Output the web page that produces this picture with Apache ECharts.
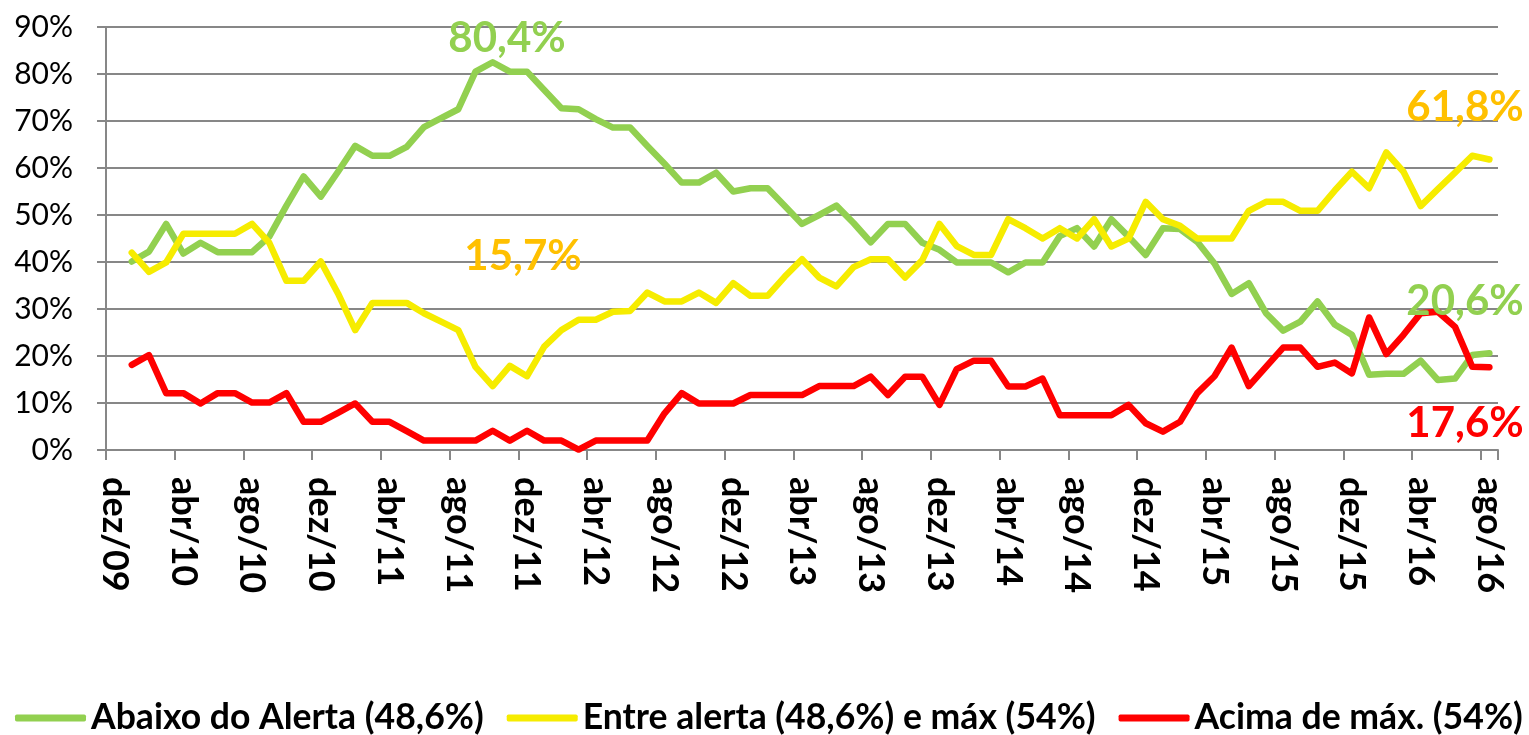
<!DOCTYPE html>
<html>
<head>
<meta charset="utf-8">
<script src="https://cdn.jsdelivr.net/npm/echarts@6/dist/echarts.min.js"></script>
<style>
html,body{margin:0;padding:0;background:#fff;}
#chart{width:1529px;height:735px;}
</style>
</head>
<body>
<div id="chart"></div>
<script>
// Months (category axis), dez/09 .. ago/16
const categories = [
 'dez/09',
 'jan/10','fev/10','mar/10','abr/10','mai/10','jun/10','jul/10','ago/10','set/10','out/10','nov/10','dez/10',
 'jan/11','fev/11','mar/11','abr/11','mai/11','jun/11','jul/11','ago/11','set/11','out/11','nov/11','dez/11',
 'jan/12','fev/12','mar/12','abr/12','mai/12','jun/12','jul/12','ago/12','set/12','out/12','nov/12','dez/12',
 'jan/13','fev/13','mar/13','abr/13','mai/13','jun/13','jul/13','ago/13','set/13','out/13','nov/13','dez/13',
 'jan/14','fev/14','mar/14','abr/14','mai/14','jun/14','jul/14','ago/14','set/14','out/14','nov/14','dez/14',
 'jan/15','fev/15','mar/15','abr/15','mai/15','jun/15','jul/15','ago/15','set/15','out/15','nov/15','dez/15',
 'jan/16','fev/16','mar/16','abr/16','mai/16','jun/16','jul/16','ago/16'
];

const seriesNames = ['Abaixo do Alerta (48,6%)', 'Entre alerta (48,6%) e máx (54%)', 'Acima de máx. (54%)'];

const abaixo = [null,
 40.1,42.2,48.1,41.8,44.1,42.1,42.1,42.1,45.4,52.0,58.2,53.9,
 59.2,64.7,62.6,62.6,64.5,68.7,70.6,72.5,80.5,82.5,80.5,80.5,
 76.6,72.7,72.5,70.4,68.6,68.6,64.7,60.9,56.9,56.9,59.0,55.0,
 55.7,55.7,51.9,48.1,50.0,52.0,48.3,44.2,48.1,48.1,44.1,42.6,
 39.9,39.9,39.9,37.8,39.9,39.9,45.5,47.2,43.3,49.1,45.4,41.5,
 47.2,47.0,44.3,39.7,33.2,35.5,29.1,25.4,27.3,31.6,26.7,24.5,
 16.0,16.2,16.2,19.0,14.9,15.2,20.2,20.6
];

const entre = [null,
 42.0,37.9,39.9,46.0,46.0,46.0,46.0,48.1,44.1,36.0,36.0,40.1,
 33.3,25.5,31.3,31.3,31.3,29.1,27.3,25.5,17.7,13.6,17.9,15.7,
 22.0,25.5,27.7,27.7,29.4,29.6,33.5,31.6,31.6,33.5,31.3,35.5,
 32.8,32.8,36.9,40.6,36.7,34.8,38.9,40.6,40.6,36.7,40.4,48.1,
 43.4,41.5,41.5,49.1,47.2,45.0,47.2,45.0,49.1,43.3,45.0,52.8,
 49.1,47.7,45.0,45.0,45.0,50.9,52.8,52.8,50.9,50.9,55.2,59.2,
 55.7,63.3,59.2,51.9,55.5,59.0,62.6,61.8
];

const acima = [null,
 18.1,20.2,12.1,12.1,9.9,12.1,12.1,10.1,10.1,12.1,6.0,6.0,
 7.9,9.9,6.0,6.0,4.0,2.0,2.0,2.0,2.0,4.1,2.0,4.1,
 2.0,2.0,0.1,2.0,2.0,2.0,2.0,7.8,12.1,9.9,9.9,9.9,
 11.7,11.7,11.7,11.7,13.6,13.6,13.6,15.6,11.7,15.6,15.6,9.6,
 17.2,19.0,19.0,13.5,13.5,15.2,7.4,7.4,7.4,7.4,9.6,5.7,
 3.9,6.0,12.1,15.7,21.8,13.6,17.7,21.8,21.8,17.7,18.6,16.3,
 28.2,20.4,24.5,29.1,29.4,26.2,17.7,17.6
];

// Callout texts
const callouts = ['80,4%', '15,7%', '61,8%', '20,6%', '17,6%'];

const colGreen = '#92D050', colYellow = '#F6EC00', colRed = '#FF0000', colOrange = '#FFC000';
const gridColor = '#878787';
const FONT = 'Lato';

const chart = echarts.init(document.getElementById('chart'), null, {renderer: 'canvas'});

function lineSeries(name, data, color) {
  return {
    name: name, type: 'line', data: data, showSymbol: false, symbol: 'none',
    connectNulls: false, smooth: false,
    lineStyle: {color: color, width: 6.5, join: 'round', cap: 'round'},
    itemStyle: {color: color},
    emphasis: {disabled: true}
  };
}

const calloutStyle = (text, x, y, color) => ({
  type: 'text', x: x, y: y, z: 100,
  style: {text: text, x: 0, y: 0, align: 'center', verticalAlign: 'middle',
    font: 'bold 42px ' + FONT, fill: color}
});

chart.setOption({
  animation: false,
  backgroundColor: '#ffffff',
  grid: {left: 106, right: 31, top: 27, bottom: 285, containLabel: false},
  xAxis: {
    type: 'category', data: categories, boundaryGap: true,
    axisLine: {show: true, lineStyle: {color: gridColor, width: 2}},
    axisTick: {show: true, interval: 3, length: 10, lineStyle: {color: gridColor, width: 2}},
    axisLabel: {interval: 3, rotate: -90, margin: 27, color: '#000',
      fontFamily: FONT, fontWeight: 'bold', fontSize: 36},
    splitLine: {show: false}
  },
  yAxis: {
    type: 'value', min: 0, max: 90, interval: 10,
    axisLine: {show: true, lineStyle: {color: gridColor, width: 2}},
    axisTick: {show: true, length: 9, lineStyle: {color: gridColor, width: 2}},
    axisLabel: {formatter: '{value}%', margin: 33, color: '#000', fontFamily: FONT, fontSize: 30},
    splitLine: {show: true, lineStyle: {color: gridColor, width: 2}}
  },
  legend: {
    data: seriesNames, left: 15, top: 700, padding: 0, itemGap: 23,
    icon: 'roundRect', itemWidth: 71, itemHeight: 7,
    textStyle: {fontFamily: FONT, fontWeight: 'bold', fontSize: 35.6, color: '#000'},
    selectedMode: false
  },
  series: [
    lineSeries(seriesNames[0], abaixo, colGreen),
    lineSeries(seriesNames[1], entre, colYellow),
    lineSeries(seriesNames[2], acima, colRed)
  ],
  graphic: [
    calloutStyle(callouts[0], 507, 38, colGreen),
    calloutStyle(callouts[1], 523, 256, colOrange),
    calloutStyle(callouts[2], 1465, 107, colOrange),
    calloutStyle(callouts[3], 1465, 301, colGreen),
    calloutStyle(callouts[4], 1465, 423, colRed)
  ]
});
</script>
</body>
</html>
